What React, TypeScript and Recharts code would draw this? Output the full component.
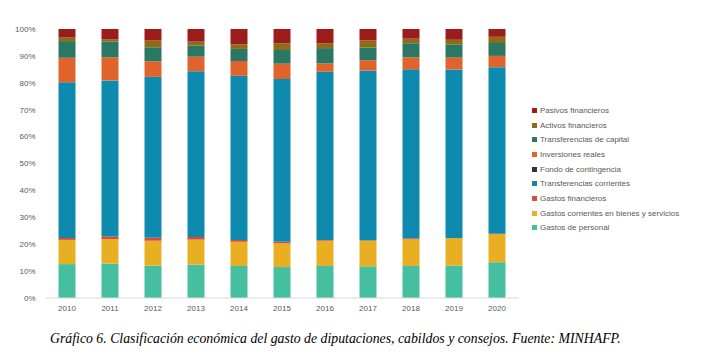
import React from 'react';
import { BarChart, Bar, XAxis, YAxis } from 'recharts';

const years = ['2010', '2011', '2012', '2013', '2014', '2015', '2016', '2017', '2018', '2019', '2020'];

const personal = [12.6, 12.8, 12.0, 12.4, 11.9, 11.5, 11.9, 11.8, 11.9, 12.0, 13.3];
const bienes = [9.0, 9.1, 9.3, 9.3, 9.0, 8.8, 9.4, 9.5, 9.9, 10.2, 10.5];
const financieros = [0.7, 1.0, 1.1, 1.0, 0.7, 0.6, 0.3, 0.2, 0.4, 0.1, 0.1];
const transfCorrientes = [57.9, 58.0, 59.8, 61.6, 61.0, 60.5, 62.5, 63.1, 62.8, 62.5, 61.9];
const contingencia = [0, 0, 0, 0, 0, 0, 0, 0, 0, 0, 0];
const inversiones = [9.1, 8.6, 5.8, 5.4, 5.5, 5.7, 3.1, 3.9, 4.5, 4.4, 4.2];
const transfCapital = [6.2, 5.8, 5.2, 4.1, 4.5, 5.1, 5.7, 4.7, 5.2, 4.9, 4.8];
const activos = [1.3, 0.9, 2.5, 1.5, 1.7, 2.5, 1.8, 2.7, 1.7, 1.7, 2.3];
const pasivos = [3.2, 3.8, 4.3, 4.7, 5.7, 5.3, 5.3, 4.2, 3.6, 4.0, 2.9];

const yTicks = [0, 0.1, 0.2, 0.3, 0.4, 0.5, 0.6, 0.7, 0.8, 0.9, 1];

const series = [
  { key: 'personal', name: 'Gastos de personal', color: '#45BFA0', values: personal },
  { key: 'bienes', name: 'Gastos corrientes en bienes y servicios', color: '#E8AF22', values: bienes },
  { key: 'financieros', name: 'Gastos financieros', color: '#DA4B3C', values: financieros },
  { key: 'transfCorrientes', name: 'Transferencias corrientes', color: '#0E8AAE', values: transfCorrientes },
  { key: 'contingencia', name: 'Fondo de contingencia', color: '#253746', values: contingencia },
  { key: 'inversiones', name: 'Inversiones reales', color: '#E0632C', values: inversiones },
  { key: 'transfCapital', name: 'Transferencias de capital', color: '#2A7763', values: transfCapital },
  { key: 'activos', name: 'Activos financieros', color: '#8E6B14', values: activos },
  { key: 'pasivos', name: 'Pasivos financieros', color: '#9B1C1B', values: pasivos },
];

const data = years.map((year, i) => {
  const row: Record<string, string | number> = { year };
  series.forEach((s) => {
    row[s.key] = s.values[i];
  });
  return row;
});

const tickStyle = { fontFamily: '"Liberation Sans", Arial, sans-serif', fontSize: 8, fill: '#595959' };

export default function App() {
  return (
    <div style={{ position: 'absolute', left: 0, top: 0, width: 701, height: 358, background: '#fff' }}>
      <BarChart
        width={701}
        height={320}
        data={data}
        stackOffset="expand"
        margin={{ top: 29, right: 182.5, bottom: 2, left: 5.5 }}
      >
        <XAxis
          dataKey="year"
          height={20}
          tickLine={false}
          axisLine={{ stroke: '#D9D9D9' }}
          tick={tickStyle}
          tickMargin={1}
        />
        <YAxis
          width={40}
          domain={[0, 1]}
          ticks={yTicks}
          tickFormatter={(v: number) => `${Math.round(v * 100)}%`}
          axisLine={false}
          tickLine={false}
          tick={tickStyle}
          tickMargin={4}
        />
        {series.map((s) => (
          <Bar
            key={s.key}
            dataKey={s.key}
            name={s.name}
            stackId="a"
            fill={s.color}
            barSize={17}
            isAnimationActive={false}
          />
        ))}
      </BarChart>

      {/* legend, top entry first */}
      <div style={{ position: 'absolute', left: 532, top: 103, fontFamily: '"Liberation Sans", Arial, sans-serif', fontSize: 8, color: '#595959' }}>
        {[...series].reverse().map((s) => (
          <div key={s.key} style={{ display: 'flex', alignItems: 'center', height: 14.7, whiteSpace: 'nowrap' }}>
            <span style={{ display: 'inline-block', width: 5, height: 5, background: s.color, marginRight: 3 }} />
            <span>{s.name}</span>
          </div>
        ))}
      </div>

      <div
        style={{
          position: 'absolute',
          left: 50,
          top: 331,
          fontFamily: '"Liberation Serif", "Times New Roman", serif',
          fontStyle: 'italic',
          fontSize: 13.8,
          color: '#000',
          whiteSpace: 'nowrap',
        }}
      >
        Gráfico 6. Clasificación económica del gasto de diputaciones, cabildos y consejos. Fuente: MINHAFP.
      </div>
    </div>
  );
}
